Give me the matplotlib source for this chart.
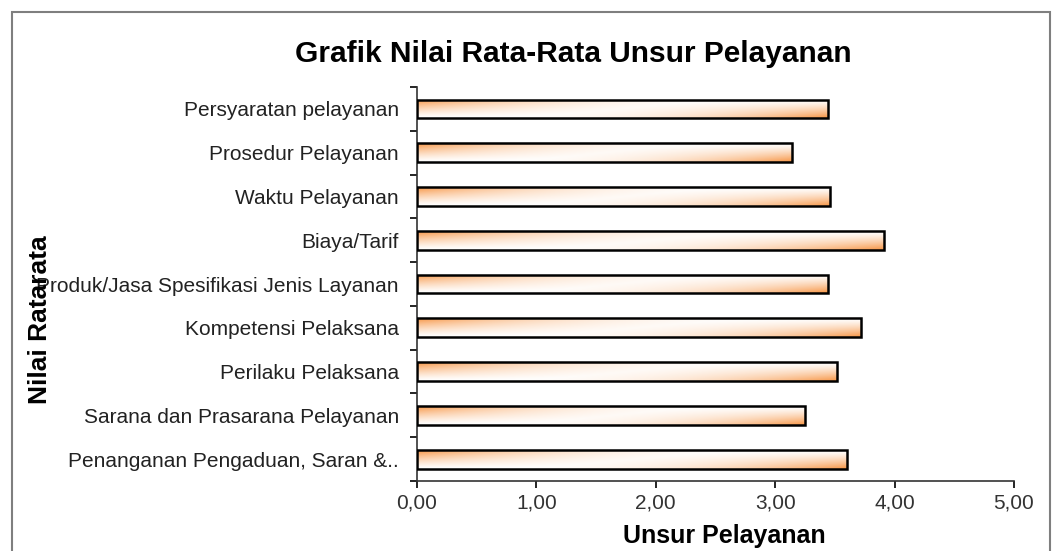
import numpy as np
import matplotlib.pyplot as plt
from matplotlib.colors import LinearSegmentedColormap
from matplotlib.patches import Rectangle

plt.rcParams['font.family'] = ['Liberation Sans', 'DejaVu Sans']

categories = [
    "Persyaratan pelayanan",
    "Prosedur Pelayanan",
    "Waktu Pelayanan",
    "Biaya/Tarif",
    "Produk/Jasa Spesifikasi Jenis Layanan",
    "Kompetensi Pelaksana",
    "Perilaku Pelaksana",
    "Sarana dan Prasarana Pelayanan",
    "Penanganan Pengaduan, Saran &..",
]
values = [3.44, 3.14, 3.46, 3.91, 3.44, 3.72, 3.52, 3.25, 3.60]
xticks = [0, 1, 2, 3, 4, 5]
xtick_labels = ["0,00", "1,00", "2,00", "3,00", "4,00", "5,00"]

fig = plt.figure(figsize=(10.6, 5.51), dpi=100)
ax = fig.add_axes([0.3934, 0.127, 0.5632, 0.715])

# bingkai luar abu-abu
fig.patches.append(Rectangle((12 / 1060, -0.05), 1038 / 1060, 1.05 - 12 / 551,
                             transform=fig.transFigure, fill=False,
                             edgecolor="#7f7f7f", linewidth=1.5))

orange = np.array([247, 150, 70]) / 255
cmap = LinearSegmentedColormap.from_list("og", [(1, 1, 1), orange])

y = np.arange(len(categories))
bh = 0.43
bars = ax.barh(y, values, height=bh, facecolor="none", edgecolor="black",
               linewidth=1.8, zorder=3)

# gradien: oranye di kiri-atas dan kanan-bawah, putih di tengah
gu = np.linspace(0, 1, 300)
gv = np.linspace(0, 1, 40)
U, V = np.meshgrid(gu, gv)
grad = np.maximum((1 - U) ** 3 * (1 - V) ** 1.3, U ** 3 * V ** 1.3)
for rect, val, yi in zip(bars, values, y):
    im = ax.imshow(grad, cmap=cmap, vmin=0, vmax=1, aspect="auto",
                   extent=[0, val, yi + bh / 2, yi - bh / 2],
                   origin="upper", zorder=2, interpolation="bilinear")
    im.set_clip_path(rect)

ax.set_xlim(0, 5)
ax.set_ylim(len(categories) - 0.5, -0.5)
ax.set_xticks(xticks)
ax.set_xticklabels(xtick_labels, fontsize=15, color="#333333")
ax.set_yticks(y)
ax.set_yticklabels(categories, fontsize=15, color="#222222")
ax.set_yticks(np.arange(len(categories) + 1) - 0.5, minor=True)
ax.tick_params(axis="y", which="major", length=0, pad=13)
ax.tick_params(axis="y", which="minor", length=5, width=1.2, direction="out")
ax.tick_params(axis="x", length=5, width=1.2, direction="out", pad=4)

for s in ["top", "right"]:
    ax.spines[s].set_visible(False)
for s in ["left", "bottom"]:
    ax.spines[s].set_linewidth(1.2)
    ax.spines[s].set_color("#333333")

fig.text(0.541, 0.902, "Grafik Nilai Rata-Rata Unsur Pelayanan",
         fontsize=21.5, fontweight="bold", ha="center", va="center")
fig.text(0.683, 0.027, "Unsur Pelayanan", fontsize=18, fontweight="bold",
         ha="center", va="center")
fig.text(0.038, 0.42, "Nilai Ratarata", fontsize=19, fontweight="bold",
         ha="center", va="center", rotation=90)

fig.savefig("out.png", dpi=100)
